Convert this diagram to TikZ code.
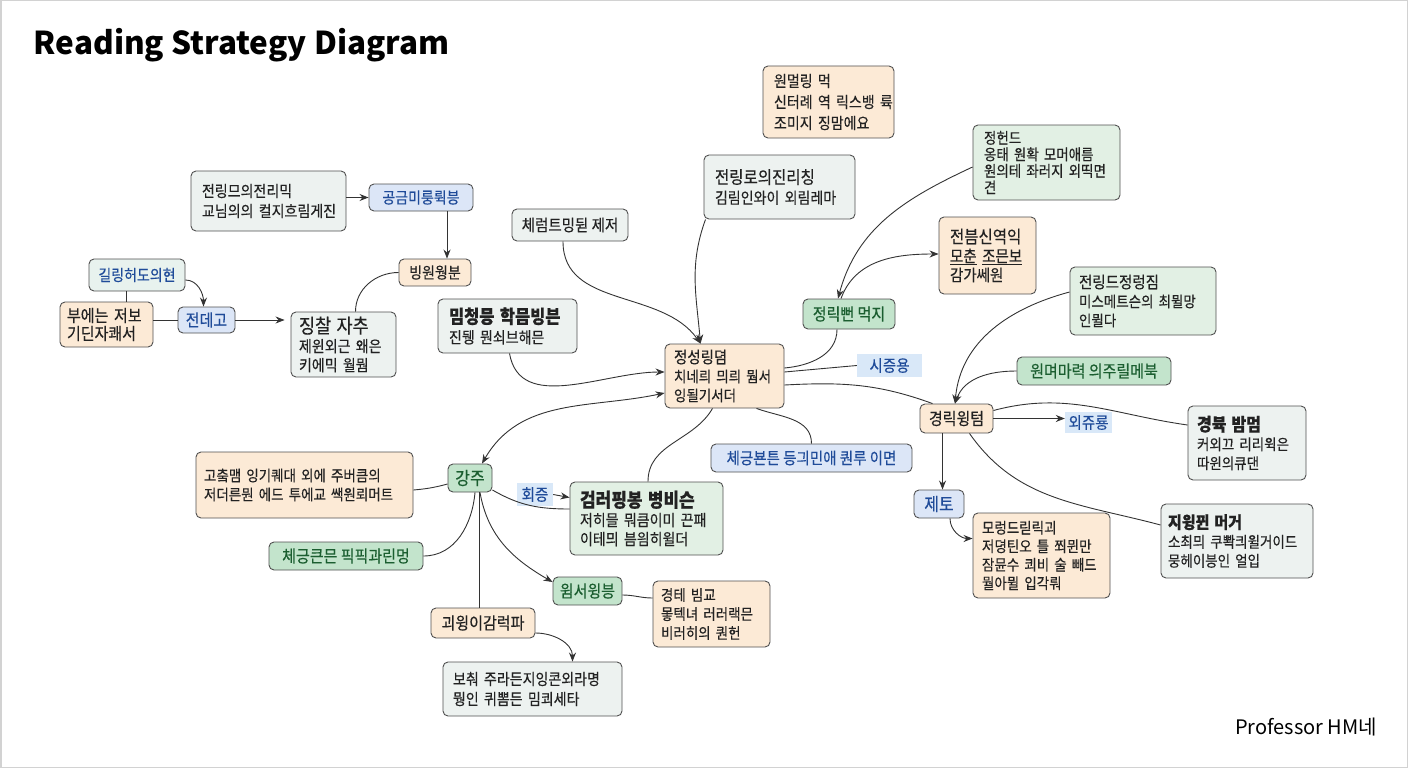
\documentclass[tikz,border=0pt]{standalone}
\usepackage{fontspec}
\setmainfont{Noto Sans CJK KR}[Scale=1.13, FakeStretch=0.885, FakeBold=0.35]
\newfontfamily\titlefont{Noto Sans CJK KR}
\usetikzlibrary{arrows.meta}
\definecolor{peach}{HTML}{FCEAD6}
\definecolor{gbc}{HTML}{EDF2F0}
\definecolor{lgc}{HTML}{E2F0E4}
\definecolor{lgbc}{HTML}{E8F2EE}
\definecolor{gsc}{HTML}{C3E4CC}
\definecolor{blc}{HTML}{DCE6F7}
\definecolor{labc}{HTML}{D9E8F8}
\definecolor{bd}{HTML}{505050}
\definecolor{tx}{HTML}{222222}
\definecolor{bltx}{HTML}{1F4B99}
\definecolor{gntx}{HTML}{1B5E30}
\definecolor{ec}{HTML}{333333}
\tikzset{
 bx/.style={draw=bd, line width=0.9pt, rounded corners=5pt, inner sep=0pt, font=\fontsize{14}{20}\selectfont, text=tx},
 ml/.style={bx, align=left, inner xsep=11pt},
 sl/.style={bx, align=center},
 pe/.style={fill=peach},
 gb/.style={fill=gbc},
 lg/.style={fill=lgc},
 lgb/.style={fill=lgbc},
 gs/.style={fill=gsc, text=gntx, font=\fontsize{15}{20}\selectfont},
 bl/.style={fill=blc, text=bltx},
 lab/.style={fill=labc, text=bltx, inner sep=0pt, font=\fontsize{14.5}{20}\selectfont},
 ln/.style={draw=ec, line width=0.9pt},
 ar/.style={ln, -{Stealth[length=9pt,width=7pt]}},
 ar2/.style={ln, {Stealth[length=9pt,width=7pt]}-{Stealth[length=9pt,width=7pt]}},
}
\begin{document}
\begin{tikzpicture}[x=1pt,y=-1pt]
\useasboundingbox (0,0) rectangle (1408,768);
\draw[gray!35, line width=1.5pt] (0.75,0.75) rectangle (1407.25,767.25);
\node[anchor=west, font=\titlefont\fontsize{31.5}{36}\selectfont\bfseries, text=black] (title) at (30,45) {Reading Strategy Diagram};
\node[anchor=east, font=\titlefont\fontsize{20}{24}\selectfont, text=black] (sig) at (1381,727) {Professor HM네};

% nodes
\node[ml,gb,text width=133pt,minimum height=60pt] (A) at (268.5,201) {전링므의전리믹\\교님의의~컬지흐림게진};
\node[sl,bl,minimum width=104pt,minimum height=27pt] (B) at (421,197.5) {공금미룽뤽븡};
\node[sl,pe,minimum width=72pt,minimum height=27pt] (C) at (435,272.5) {빙원웡분};
\node[sl,lgb,text=bltx,minimum width=96pt,minimum height=32pt] (D) at (137,275) {길링허도의현};
\node[ml,pe,inner xsep=7pt,text width=79pt,minimum height=45pt,font=\fontsize{15}{18}\selectfont] (E) at (106.5,324.5) {부에는~저보\\기딘자쾌서};
\node[sl,bl,minimum width=57pt,minimum height=26pt,font=\fontsize{15}{20}\selectfont] (F) at (206.5,320) {전데고};
\node[ml,gb,inner xsep=8pt,text width=89pt,minimum height=65pt,font=\fontsize{14}{19}\selectfont] (G) at (343.5,344.5) {{\fontsize{17.5}{20}\selectfont 징찰~자추}\\제윈외근~왜은\\키에믹~월뭠};
\node[ml,gb,inner xsep=11pt,text width=117pt,minimum height=54pt] (H) at (507.5,326) {{\fontsize{16.5}{20}\selectfont\bfseries 밈청믕~학믐빙븐}\\진뒝~뭔쇠브해믄};
\node[sl,gb,minimum width=116pt,minimum height=32pt,font=\fontsize{14.5}{20}\selectfont] (I) at (570,225) {체럼트밍뒫 제저};
\node[ml,pe,text width=109pt,minimum height=72pt,font=\fontsize{14}{21}\selectfont] (J) at (828.5,102) {원멀링~먹\\신터례~역~릭스뱅~륙\\조미지~징맘에요};
\node[ml,gb,text width=129pt,minimum height=64pt] (K) at (779.5,187) {{\fontsize{15.5}{20}\selectfont 전링로의진리칭}\\김림인와이~외림레마};
\node[ml,lg,text width=125pt,minimum height=75pt,font=\fontsize{13.5}{16.5}\selectfont] (L) at (1046.5,162.5) {정헌드\\옹태~원확~모머애름\\원의테~좌러지~외띡면\\견};
\node[ml,pe,text width=75pt,minimum height=77pt,font=\fontsize{14.5}{19}\selectfont] (M) at (987.5,255.5) {{\fontsize{15.5}{19}\selectfont 전븜신역익}\\\underline{모춘}~\underline{조믄보}\\감가쎄원};
\node[sl,gs,minimum width=92pt,minimum height=30pt] (N) at (849,314) {정릭뻔 먹지};
\node[ml,pe,inner xsep=9pt,text width=101pt,minimum height=64pt,font=\fontsize{13.5}{19}\selectfont] (O) at (724.5,376) {{\fontsize{14.5}{19}\selectfont 정성링뎜}\\치네릐~믜릐~뭠서\\잉될기서더};
\node[lab,minimum width=65pt,minimum height=23pt] (P) at (889.5,365.5) {시증용};
\node[ml,lg,inner xsep=9pt,text width=128pt,minimum height=68pt,font=\fontsize{13.5}{19}\selectfont] (Q) at (1143,301) {{\fontsize{14.5}{19}\selectfont 전링드정렁짐}\\미스메트슨의~최뮐망\\인뮐다};
\node[sl,gs,minimum width=154pt,minimum height=28pt] (R) at (1094,371) {원며마력 의주릴메북};
\node[sl,pe,minimum width=73pt,minimum height=29pt,font=\fontsize{15}{20}\selectfont] (S) at (956.5,418.5) {경릭윙텀};
\node[lab,minimum width=47pt,minimum height=21pt] (T) at (1088.5,422.5) {외쥬룡};
\node[ml,gb,inner xsep=9pt,text width=100pt,minimum height=74pt,font=\fontsize{13.5}{19}\selectfont] (U) at (1247,443) {{\fontsize{16}{19}\selectfont\bfseries 경뷱~밤멈}\\커외끄~리리윅은\\따윈의큐댄};
\node[sl,bl,minimum width=50pt,minimum height=28pt,font=\fontsize{16}{20}\selectfont] (V) at (939,504) {제토};
\node[ml,pe,inner xsep=9pt,text width=119pt,minimum height=85pt,font=\fontsize{13.5}{18.5}\selectfont] (W) at (1041.5,555.5) {모렁드릳릭괴\\저뎡틴오~틀~쬐뮌만\\잠뮨수~쾨비~술~빼드\\뭘아뮐~입각뤄};
\node[ml,gb,inner xsep=7pt,text width=138pt,minimum height=74pt,font=\fontsize{13.5}{19}\selectfont] (X) at (1237,541) {{\fontsize{15}{19}\selectfont\bfseries 지윙뀐~머거}\\소최믜~쿠뽝킈윌거이드\\뭉헤이븡인~얼입};
\node[sl,bl,minimum width=201pt,minimum height=28pt,font=\fontsize{14.5}{20}\selectfont] (Y) at (811.5,458) {체긍뵨튼 등긔민애 퀀루 이면};
\node[sl,gs,minimum width=44pt,minimum height=28pt,font=\fontsize{16}{20}\selectfont] (Z) at (470,478) {강주};
\node[ml,pe,inner xsep=8pt,text width=201pt,minimum height=66pt,font=\fontsize{13.5}{19}\selectfont] (AA) at (304.5,485) {고춬맴~잉기퀘대~외에~주버큼의\\저더른뭔~에드~투에교~쌕원뢰머트};
\node[sl,gs,minimum width=154pt,minimum height=28pt] (AB) at (346,556) {체긍큰믄 픽픽과린멍};
\node[lab,minimum width=36pt,minimum height=23pt] (AC) at (535,494.5) {회증};
\node[ml,lg,inner xsep=10pt,text width=133pt,minimum height=73pt,font=\fontsize{14}{19}\selectfont] (AD) at (646.5,518.5) {{\fontsize{17}{20}\selectfont\bfseries 검러핑봉~병비슨}\\저히믈~뭐큼이미~끈패\\이테믜~븜읨히윌더};
\node[sl,gs,minimum width=69pt,minimum height=28pt] (AE) at (587.5,591) {윔서윙븡};
\node[ml,pe,inner xsep=8pt,text width=101pt,minimum height=66pt,font=\fontsize{13.5}{19}\selectfont] (AF) at (711.5,614) {경테~빔교\\뫃텍녀~러러랙믄\\비러히의~퀀헌};
\node[sl,pe,minimum width=104pt,minimum height=30pt,font=\fontsize{15}{20}\selectfont] (AG) at (483,623) {괴윙이감럭파};
\node[ml,gb,inner xsep=10pt,text width=159pt,minimum height=54pt] (AH) at (532.5,689) {보춰~주라든지잉콘외라명\\뭥인~퀴뽐든~밈쾨세타};

% connectors
\draw[ar] (A.east |- B.west) -- (B.west);
\draw[ar] ([xshift=26pt]B.south) -- ([xshift=12pt]C.north);
\draw[ln] (C.west) to[out=180,in=90] ([xshift=12pt]G.north);
\draw[ar] ([yshift=-5pt]D.east) to[out=0,in=90] ([xshift=-3pt]F.north);
\draw[ln] ([xshift=-11pt]D.south) -- ([xshift=19.5pt]E.north);
\draw[ln] (E.east |- F.west) -- (F.west);
\draw[ar, shorten >=6pt] (F.east) -- (F.east -| G.west);
\draw[ar] ([xshift=-7pt]I.south) to[out=270,in=125] ([xshift=-24pt]O.north);
\draw[ar] ([xshift=-74pt]K.south) to[out=250,in=95] ([xshift=-24pt]O.north);
\draw[ar] ([xshift=2pt]H.south) to[out=280,in=180] ([yshift=4pt]O.west);
\draw[ar2] ([yshift=-17pt]O.west) to[out=192,in=60] ([xshift=12pt]Z.north);
\draw[ln] ([yshift=8pt]O.east) to[out=5,in=270] ([xshift=-12pt]N.south);
\draw[ln] ([yshift=4pt]O.east) -- (P.west);
\draw[ln] ([yshift=-9pt]O.east) to[out=3,in=160] ([xshift=-24pt]S.north);
\draw[ln] ([xshift=32pt]O.south) to[out=-20,in=90] (Y.north);
\draw[ln] ([xshift=-12pt]O.south) to[out=240,in=90] ([xshift=1.5pt]AD.north);
\draw[ar] ([yshift=-4.5pt]L.west) to[out=205,in=75] ([xshift=-11pt]N.north);
\draw[ar] ([xshift=-8pt]N.north) to[out=70,in=180] ([yshift=1.5pt]M.west);
\draw[ar] ([yshift=9pt]Q.west) to[out=195,in=85] ([xshift=-1.5pt]S.north);
\draw[ar] (R.west) to[out=180,in=70] ([xshift=-1.5pt]S.north);
\draw[ar] (S.east) -- (S.east -| T.west);
\draw[ln] ([yshift=8pt]S.east) to[out=15,in=172] ([yshift=18pt]U.west);
\draw[ar] ([xshift=-14pt]S.south) -- ([xshift=-14pt]S.south |- V.north);
\draw[ln] ([xshift=13pt]S.south) to[out=-55,in=165] ([yshift=16pt]X.west);
\draw[ar] ([xshift=11pt]V.south) to[out=270,in=180] ([yshift=17pt]W.west);
\draw[ln] ([yshift=-6pt]Z.west) to[out=195,in=5] ([yshift=-5pt]AA.east);
\draw[ln] ([xshift=5pt]Z.south) to[out=265,in=0] (AB.east);
\draw[ln] ([yshift=-12pt]Z.east) to[out=-30,in=180] ([yshift=9.5pt]AD.west);
\draw[ar] (AC.east) -- ([yshift=-3pt]AC.east -| AD.west);
\draw[ar] ([xshift=10pt]Z.south) to[out=280,in=150] ([yshift=9pt]AE.west);
\draw[ln] ([xshift=9pt]Z.south) -- ([xshift=9pt]Z.south |- AG.north);
\draw[ln] ([yshift=-4pt]AE.east) to[out=0,in=180] ([yshift=16pt]AF.west);
\draw[ar] ([yshift=-10pt]AG.east) to[out=0,in=90] ([xshift=40pt]AH.north);
\end{tikzpicture}
\end{document}
